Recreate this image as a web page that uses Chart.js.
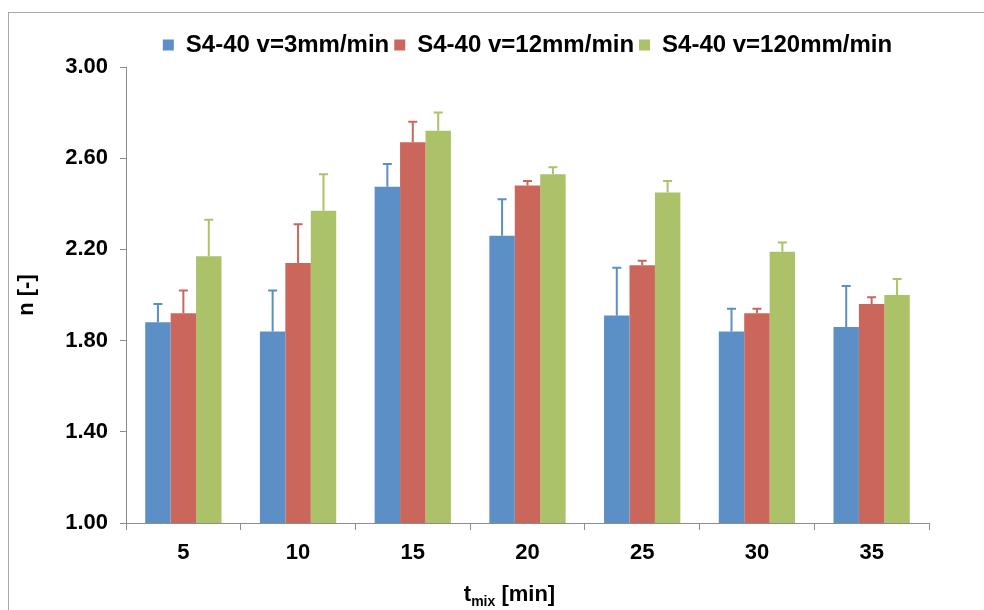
<!DOCTYPE html>
<html>
<head>
<meta charset="utf-8">
<script src="https://cdn.jsdelivr.net/npm/chart.js@4.4.1/dist/chart.umd.min.js"></script>
<style>
  body { margin: 0; background: #fff; }
  #wrap { position: relative; width: 984px; height: 610px; overflow: hidden; }
  #frame { position: absolute; left: 8px; top: 12px; width: 990px; height: 610px;
           border-left: 1px solid #a8a8a8; border-top: 1px solid #a8a8a8; pointer-events: none; }
</style>
</head>
<body>
<div id="wrap">
  <canvas id="nChart" width="984" height="610"></canvas>
  <div id="frame"></div>
</div>
<script>
//mixing times on the x axis
const mixTimes = ["5", "10", "15", "20", "25", "30", "35"];

//mean n values for each speed
const nSlow = [1.88, 1.84, 2.475, 2.26, 1.91, 1.84, 1.86];
const nMid = [1.92, 2.14, 2.67, 2.48, 2.13, 1.92, 1.96];
const nFast = [2.17, 2.37, 2.72, 2.53, 2.45, 2.19, 2.00];

//upper error (std dev) for each speed
const errSlow = [0.08, 0.18, 0.10, 0.16, 0.21, 0.10, 0.18];
const errMid = [0.10, 0.17, 0.09, 0.02, 0.02, 0.02, 0.03];
const errFast = [0.16, 0.16, 0.08, 0.03, 0.05, 0.04, 0.07];

const yTicks = [1.0, 1.4, 1.8, 2.2, 2.6, 3.0];

const FONT = "'Liberation Sans', Arial, sans-serif";

//draws the upward error bars with a small cap
const errorBars = {
  id: "errorBars",
  afterDatasetsDraw(chart) {
    const ctx = chart.ctx;
    const y = chart.scales.y;
    chart.data.datasets.forEach((ds, i) => {
      const meta = chart.getDatasetMeta(i);
      meta.data.forEach((bar, j) => {
        const top = y.getPixelForValue(ds.data[j] + ds.errors[j]);
        ctx.save();
        ctx.strokeStyle = ds.backgroundColor;
        ctx.lineWidth = 2;
        ctx.beginPath();
        ctx.moveTo(bar.x, bar.y);
        ctx.lineTo(bar.x, top);
        ctx.moveTo(bar.x - 4.5, top);
        ctx.lineTo(bar.x + 4.5, top);
        ctx.stroke();
        ctx.restore();
      });
    });
  }
};

//legend centred over the plot area, and x title with subscript
const layoutExtras = {
  id: "layoutExtras",
  afterLayout(chart) {
    chart.legend.left = chart.chartArea.left;
    chart.legend.right = chart.chartArea.right;
  },
  afterDraw(chart) {
    const ctx = chart.ctx;
    const area = chart.chartArea;
    const big = "bold 22px " + FONT;
    const small = "bold 14px " + FONT;
    ctx.save();
    ctx.fillStyle = "#000";
    ctx.textBaseline = "alphabetic";
    ctx.font = big;
    const wT = ctx.measureText("t").width;
    const wRest = ctx.measureText(" [min]").width;
    ctx.font = small;
    const wSub = ctx.measureText("mix").width;
    let x = (area.left + area.right) / 2 - 18 - (wT + wSub + wRest) / 2;
    const base = area.bottom + 78;
    ctx.font = big;
    ctx.fillText("t", x, base);
    x += wT;
    ctx.font = small;
    ctx.fillText("mix", x, base + 5);
    x += wSub;
    ctx.font = big;
    ctx.fillText(" [min]", x, base);
    ctx.restore();
  }
};

new Chart(document.getElementById("nChart"), {
  type: "bar",
  data: {
    labels: mixTimes,
    datasets: [
      { label: "S4-40 v=3mm/min", data: nSlow, errors: errSlow, backgroundColor: "#5B8FC5" },
      { label: "S4-40 v=12mm/min", data: nMid, errors: errMid, backgroundColor: "#CB665B" },
      { label: "S4-40 v=120mm/min", data: nFast, errors: errFast, backgroundColor: "#ABC268" }
    ]
  },
  options: {
    responsive: false,
    animation: false,
    devicePixelRatio: 1,
    layout: { padding: { top: 28, right: 55, left: 0, bottom: 0 } },
    datasets: { bar: { barPercentage: 1, categoryPercentage: 0.665 } },
    plugins: {
      tooltip: { enabled: false },
      legend: {
        position: "top",
        labels: {
          boxWidth: 11,
          boxHeight: 11,
          padding: 5,
          color: "#000",
          font: { family: FONT, size: 24, weight: "bold" }
        }
      }
    },
    scales: {
      x: {
        afterFit(scale) { scale.height = 87; },
        grid: { display: true, drawOnChartArea: false, drawTicks: true, tickLength: 7, color: "#8c8c8c", offset: true },
        border: { display: true, color: "#8c8c8c", width: 1 },
        ticks: { color: "#000", padding: 10, font: { family: FONT, size: 22, weight: "bold" } }
      },
      y: {
        min: 1,
        max: 3,
        afterFit(scale) { scale.width = 126; },
        afterBuildTicks(scale) { scale.ticks = yTicks.map((v) => ({ value: v })); },
        grid: { display: true, drawOnChartArea: false, drawTicks: true, tickLength: 6, color: "#8c8c8c" },
        border: { display: true, color: "#8c8c8c", width: 1 },
        ticks: {
          color: "#000",
          padding: 12,
          font: { family: FONT, size: 22, weight: "bold" },
          callback: (v) => Number(v).toFixed(2)
        },
        title: {
          display: true,
          text: "n [-]",
          color: "#000",
          padding: { top: 14, bottom: 0 },
          font: { family: FONT, size: 22, weight: "bold" }
        }
      }
    }
  },
  plugins: [errorBars, layoutExtras]
});
</script>
</body>
</html>
